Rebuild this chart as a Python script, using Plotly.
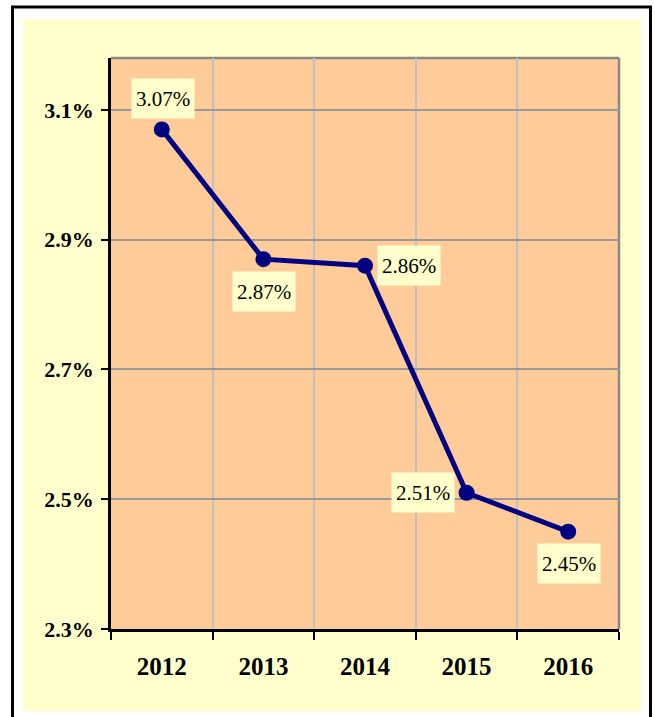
import plotly.graph_objects as go

# Data
years = ["2012", "2013", "2014", "2015", "2016"]
rates = [3.07, 2.87, 2.86, 2.51, 2.45]
labels = ["3.07%", "2.87%", "2.86%", "2.51%", "2.45%"]
# label offsets (pixels) relative to each point
label_dx = [1, 1, 44, -44, 1]
label_dy = [31, -32, 0, 0, -32]

y_ticks = [2.3, 2.5, 2.7, 2.9, 3.1]
y_tick_text = ["2.3%", "2.5%", "2.7%", "2.9%", "3.1%"]

W, H = 655, 717
L, R, T, B = 111, 619, 58, 629  # plot-area edges in pixels


def px_x(x):
    return (x - L) / (R - L)


def px_y(y):
    return (B - y) / (B - T)


NAVY = "#000080"
PEACH = "#FFCC99"
CREAM = "#FFFFCC"
SERIF = "Liberation Serif, Times New Roman, serif"

fig = go.Figure()
fig.add_trace(go.Scatter(
    x=years, y=rates, mode="lines+markers",
    line=dict(color=NAVY, width=5),
    marker=dict(color=NAVY, size=16),
    hoverinfo="skip", showlegend=False,
))

# category positions are given by index so "2012" is not read as a number
for i, (v, txt, dx, dy) in enumerate(zip(rates, labels, label_dx, label_dy)):
    fig.add_annotation(
        x=i, y=v, text=txt, showarrow=False,
        xanchor="center", yanchor="middle",
        xshift=dx, yshift=dy,
        font=dict(family=SERIF, size=21, color="black"),
        bgcolor=CREAM, borderpad=4, height=31,
    )

shapes = [
    # outer frame
    dict(type="rect", xref="paper", yref="paper", layer="below",
         x0=px_x(12.5), x1=px_x(650.5), y0=px_y(730), y1=px_y(7),
         line=dict(color="black", width=3), fillcolor="white"),
    # chart area
    dict(type="rect", xref="paper", yref="paper", layer="below",
         x0=px_x(23), x1=px_x(641), y0=px_y(711), y1=px_y(19),
         line=dict(width=0), fillcolor=CREAM),
    # plot area
    dict(type="rect", xref="paper", yref="paper", layer="below",
         x0=0, x1=1, y0=0, y1=1,
         line=dict(width=0), fillcolor=PEACH),
    # top and right border of the plot area
    dict(type="line", xref="paper", yref="paper", layer="between",
         x0=0, x1=1, y0=1, y1=1, line=dict(color="#888888", width=2.5)),
    dict(type="line", xref="paper", yref="paper", layer="between",
         x0=1, x1=1, y0=0, y1=1, line=dict(color="#888888", width=2.5)),
]

fig.update_layout(
    width=W, height=H,
    margin=dict(l=L, r=W - R, t=T, b=H - B, pad=0),
    paper_bgcolor="white", plot_bgcolor=PEACH,
    shapes=shapes,
    xaxis=dict(
        type="category", range=[-0.5, 4.5],
        tickson="boundaries", ticks="outside", ticklen=8, tickwidth=2,
        tickcolor="black", showline=True, linecolor="black", linewidth=2.5,
        showgrid=True, gridcolor="#C0C0C0", gridwidth=2,
        tickfont=dict(family=SERIF, size=25, color="black", weight="bold"),
        ticklabelstandoff=13, fixedrange=True,
    ),
    yaxis=dict(
        range=[2.3, 3.18], tickvals=y_ticks, ticktext=y_tick_text,
        ticks="outside", ticklen=7, tickwidth=2, tickcolor="black",
        showline=True, linecolor="black", linewidth=2.5,
        showgrid=True, gridcolor="#999999", gridwidth=2,
        zeroline=False,
        tickfont=dict(family=SERIF, size=22, color="black", weight="bold"),
        ticklabelstandoff=3, fixedrange=True,
    ),
)

fig.write_html("out.html", config={"displayModeBar": False})
